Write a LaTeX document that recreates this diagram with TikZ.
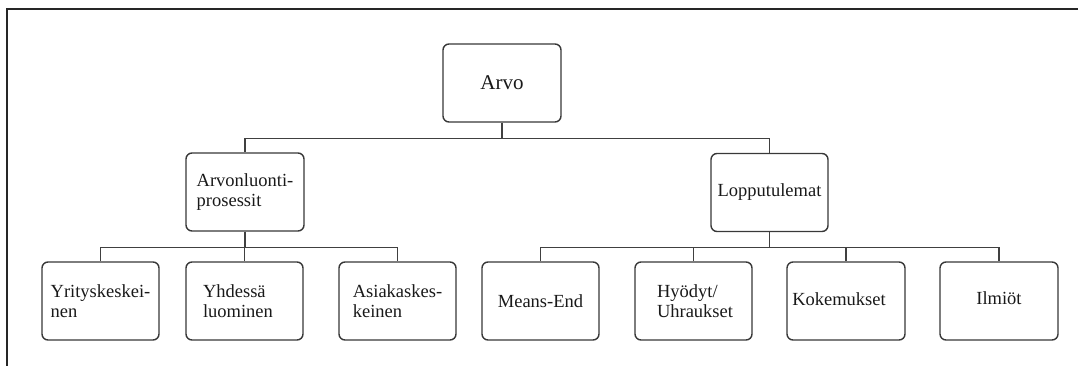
\documentclass[tikz,border=0pt]{standalone}
\usepackage{fontspec}
\setmainfont{Liberation Serif}
\begin{document}
\begin{tikzpicture}[x=1pt,y=-1pt,
  box/.style={draw=black!78,line width=1.4pt,rounded corners=6pt,minimum width=117pt,minimum height=78pt,inner sep=0pt,font=\fontsize{18.5}{20.5}\selectfont,text=black!90,align=left},
  conn/.style={draw=black!75,line width=1.3pt},
  frame/.style={draw=black!85,line width=2pt}]
\useasboundingbox (0,0) rectangle (1078,366);
\draw[frame] (7,366) -- (7,9.5) -- (1078,9.5);
\node[box,minimum width=118pt,font=\fontsize{21}{23}\selectfont] (arvo) at (502,83) {Arvo};
\node[box,minimum width=118pt] (arv) at (245,192) {Arvonluonti-\\prosessit};
\node[box] (lop) at (769.5,192.5) {\raisebox{3pt}{Lopputulemat}};
\node[box] (y1) at (100.5,301) {Yrityskeskei-\\nen};
\node[box] (y2) at (244.5,301) {\raisebox{8pt}{\parbox{67pt}{\raggedright Yhdessä\\luominen}}\hspace*{16pt}};
\node[box] (y3) at (397.5,301) {Asiakaskes-\\keinen\hspace*{20pt}};
\node[box] (m1) at (540.5,301) {\raisebox{-2pt}{Means-End}};
\node[box] (m2) at (693.5,301) {\raisebox{-4pt}{\parbox{73pt}{\raggedright Hyödyt/\\Uhraukset}}};
\node[box,minimum width=118pt] (m3) at (846,301) {\raisebox{4pt}{Kokemukset}\hspace*{14pt}};
\node[box,minimum width=118pt] (m4) at (999,301) {\raisebox{6pt}{Ilmiöt}};
\draw[conn] (arvo.south) -- ++(0,15.5) -| (arv.north);
\draw[conn] (arvo.south) -- ++(0,15.5) -| (lop.north);
\draw[conn] (arv.south) -- ++(0,16) -| (y1.north);
\draw[conn] (arv.south) -- ++(0,16) -| (y2.north);
\draw[conn] (arv.south) -- ++(0,16) -| (y3.north);
\draw[conn] (lop.south) -- ++(0,15) -| (m1.north);
\draw[conn] (lop.south) -- ++(0,15) -| (m2.north);
\draw[conn] (lop.south) -- ++(0,15) -| (m3.north);
\draw[conn] (lop.south) -- ++(0,15) -| (m4.north);
\end{tikzpicture}
\end{document}
